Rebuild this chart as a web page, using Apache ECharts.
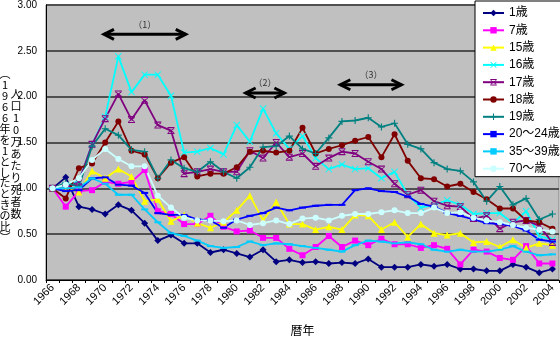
<!DOCTYPE html>
<html>
<head>
<meta charset="utf-8">
<script src="https://cdn.jsdelivr.net/npm/echarts@6/dist/echarts.min.js"></script>
<style>
  html, body { margin: 0; padding: 0; background: #ffffff; }
  #chart { width: 560px; height: 341px; }
</style>
</head>
<body>
<div id="chart"></div>
<script>
// Calendar years on the category axis
const years = ['1966','1967','1968','1969','1970','1971','1972','1973','1974','1975',
  '1976','1977','1978','1979','1980','1981','1982','1983','1984','1985',
  '1986','1987','1988','1989','1990','1991','1992','1993','1994','1995',
  '1996','1997','1998','1999','2000','2001','2002','2003','2004'];

// Deaths per 100k population, as a ratio to the 1966 level
const age1 = [1.00,1.12,0.80,0.77,0.72,0.82,0.76,0.62,0.43,0.49,
  0.40,0.40,0.30,0.33,0.29,0.25,0.33,0.20,0.22,0.19,
  0.20,0.18,0.19,0.18,0.23,0.14,0.14,0.14,0.17,0.15,
  0.17,0.12,0.12,0.10,0.10,0.17,0.14,0.08,0.12];
const age7 = [1.00,0.80,0.97,0.98,1.07,1.05,1.07,1.20,0.75,0.72,
  0.61,0.61,0.70,0.58,0.53,0.54,0.46,0.46,0.34,0.27,
  0.36,0.48,0.36,0.43,0.38,0.45,0.39,0.39,0.35,0.38,
  0.34,0.17,0.33,0.31,0.24,0.22,0.37,0.18,0.18];
const age15 = [1.00,1.00,0.96,1.19,1.11,1.21,1.13,0.86,0.88,0.64,
  0.71,0.62,0.57,0.63,0.76,0.92,0.65,0.85,0.61,0.61,
  0.55,0.58,0.55,0.71,0.70,0.55,0.63,0.47,0.61,0.51,
  0.49,0.51,0.41,0.42,0.36,0.44,0.35,0.40,0.38];
const age16 = [1.00,1.03,1.08,1.48,1.78,2.44,2.05,2.24,2.24,2.01,
  1.39,1.40,1.44,1.37,1.69,1.51,1.87,1.60,1.43,1.57,
  1.33,1.21,1.26,1.21,1.22,1.11,1.18,0.93,0.79,0.82,
  0.87,0.82,0.72,0.73,0.73,0.62,0.75,0.48,0.44];
const age17 = [1.00,1.00,1.07,1.48,1.76,2.03,1.75,1.96,1.69,1.63,
  1.16,1.18,1.21,1.18,1.18,1.41,1.33,1.50,1.34,1.38,
  1.24,1.33,1.40,1.38,1.29,1.21,1.05,0.93,0.98,0.86,
  0.81,0.80,0.67,0.70,0.56,0.63,0.65,0.59,0.41];
const age18 = [1.00,0.89,1.22,1.27,1.50,1.73,1.41,1.37,1.11,1.28,
  1.34,1.13,1.16,1.16,1.23,1.40,1.41,1.39,1.41,1.66,
  1.38,1.43,1.47,1.52,1.56,1.34,1.59,1.30,1.11,1.10,
  1.02,1.05,0.96,0.88,0.78,0.78,0.65,0.63,0.56];
const age19 = [1.00,1.06,1.02,1.46,1.65,1.58,1.42,1.40,1.11,1.31,
  1.22,1.18,1.29,1.18,1.11,1.23,1.45,1.46,1.57,1.43,
  1.38,1.55,1.73,1.74,1.77,1.67,1.71,1.48,1.43,1.28,
  1.21,1.19,1.07,0.86,1.02,0.82,0.89,0.66,0.72];
const age20to24 = [1.00,0.97,0.98,1.11,1.12,1.04,1.03,0.95,0.73,0.71,
  0.71,0.66,0.65,0.57,0.66,0.70,0.73,0.79,0.76,0.79,
  0.81,0.82,0.82,0.98,1.00,0.97,0.96,0.91,0.83,0.80,
  0.73,0.70,0.66,0.62,0.61,0.59,0.54,0.44,0.42];
const age35to39 = [1.00,1.00,1.01,1.11,1.05,0.93,0.93,0.77,0.63,0.51,
  0.48,0.43,0.37,0.35,0.36,0.42,0.38,0.40,0.39,0.37,
  0.35,0.33,0.31,0.38,0.43,0.42,0.40,0.41,0.39,0.33,
  0.31,0.33,0.31,0.31,0.33,0.37,0.31,0.27,0.28];
const age70plus = [1.00,1.04,1.11,1.31,1.43,1.32,1.24,1.24,0.92,0.79,
  0.68,0.65,0.65,0.64,0.65,0.60,0.62,0.65,0.61,0.67,
  0.68,0.65,0.70,0.72,0.72,0.74,0.76,0.73,0.73,0.79,
  0.73,0.74,0.68,0.65,0.63,0.60,0.57,0.55,0.53];

const seriesNames = ['1歳','7歳','15歳','16歳','17歳','18歳','19歳','20～24歳','35～39歳','70～歳'];
const seriesData = [age1, age7, age15, age16, age17, age18, age19, age20to24, age35to39, age70plus];

// Y axis ticks
const yTicks = [0, 0.5, 1.0, 1.5, 2.0, 2.5, 3.0];

// Period annotations: start/end year index, level, caption
const periodLabels = ['（1）', '（2）', '（3）'];
const periodFrom = [3.83, 14.6, 21.8];
const periodTo = [10.2, 17.7, 26.6];
const periodLevel = [2.68, 2.04, 2.13];

const FONT = '"Liberation Sans", "Noto Sans CJK JP", sans-serif';
const JP = '"Noto Sans CJK JP", sans-serif';

const colors = ['#000080','#FF00FF','#FFFF00','#00FFFF','#800080','#800000','#008080','#0000FF','#00CCFF','#CCFFFF'];
const xMark = 'path://M0,1L1,0L5,4L9,0L10,1L6,5L10,9L9,10L5,6L1,10L0,9L4,5Z';
const starMark = 'path://M0,0H10V1.5H0Z M0,8.5H10V10H0Z M1,1.5L5,4.2L9,1.5L9.6,2.6L6.1,5L9.6,7.4L9,8.5L5,5.8L1,8.5L0.4,7.4L3.9,5L0.4,2.6Z';
const plusMark = 'path://M4.2,0H5.8V4.2H10V5.8H5.8V10H4.2V5.8H0V4.2H4.2Z';
const symbols = ['diamond','rect','triangle',xMark,starMark,'circle',plusMark,'rect','rect','circle'];
const symbolSizes = [7,6,7,7,7,6,7,[7,2],[7,2],6];

const chart = echarts.init(document.getElementById('chart'), null, { renderer: 'canvas' });

const series = seriesNames.map((name, k) => ({
  name: name,
  type: 'line',
  data: seriesData[k],
  symbol: symbols[k],
  symbolSize: symbolSizes[k],
  showSymbol: true,
  showAllSymbol: true,
  lineStyle: { color: colors[k], width: 1.8 },
  itemStyle: { color: colors[k], borderWidth: 0 },
  emphasis: { disabled: true },
  animation: false
}));

chart.setOption({
  animation: false,
  textStyle: { fontFamily: FONT },
  grid: {
    left: 46, right: 1, top: 4, bottom: 55,
    show: true, backgroundColor: '#C0C0C0', borderColor: '#808080', borderWidth: 1
  },
  legend: {
    orient: 'vertical',
    left: 475, top: 1,
    data: seriesNames,
    selectedMode: false,
    backgroundColor: '#FFFFFF',
    borderColor: '#000000', borderWidth: 1,
    padding: [5, 6, 1, 7],
    itemWidth: 21, itemHeight: 8, itemGap: 3.3,
    textStyle: { fontSize: 12, color: '#000', fontFamily: FONT, lineHeight: 14 }
  },
  xAxis: {
    type: 'category',
    data: years,
    boundaryGap: true,
    name: '暦年',
    nameLocation: 'middle',
    nameGap: 44,
    nameTextStyle: { fontSize: 12, color: '#000', fontFamily: JP },
    axisLine: { lineStyle: { color: '#000', width: 1 } },
    axisTick: { show: true, interval: 0, length: 3, lineStyle: { color: '#000' } },
    axisLabel: { interval: 1, rotate: 45, fontSize: 11, color: '#000', margin: 6 },
    splitLine: { show: false }
  },
  yAxis: {
    type: 'value',
    min: yTicks[0], max: yTicks[yTicks.length - 1], interval: 0.5,
    axisLine: { show: true, lineStyle: { color: '#000', width: 1 } },
    axisTick: { show: false },
    axisLabel: { fontSize: 10, color: '#000', margin: 9, formatter: v => v.toFixed(2) },
    splitLine: { show: true, lineStyle: { color: '#505050', width: 2 } }
  },
  series: series
});

// Arrows and captions for the marked periods, placed through the axes
function toPx(idx, val) {
  const i0 = Math.floor(idx), i1 = Math.min(i0 + 1, years.length - 1);
  const p0 = chart.convertToPixel({ xAxisIndex: 0, yAxisIndex: 0 }, [i0, val]);
  const p1 = chart.convertToPixel({ xAxisIndex: 0, yAxisIndex: 0 }, [i1, val]);
  const t = idx - i0;
  return [p0[0] + (p1[0] - p0[0]) * t, p0[1]];
}

const graphics = [];
periodLabels.forEach((label, k) => {
  const a = toPx(periodFrom[k], periodLevel[k]);
  const b = toPx(periodTo[k], periodLevel[k]);
  const y = a[1];
  const style = { stroke: '#000', lineWidth: 3, fill: null, lineJoin: 'miter' };
  graphics.push({ type: 'line', shape: { x1: a[0] + 1, y1: y, x2: b[0] - 1, y2: y }, style: style, z: 100 });
  graphics.push({ type: 'polyline', shape: { points: [[a[0] + 11, y - 5], [a[0] + 1, y], [a[0] + 11, y + 5]] }, style: style, z: 100 });
  graphics.push({ type: 'polyline', shape: { points: [[b[0] - 11, y - 5], [b[0] - 1, y], [b[0] - 11, y + 5]] }, style: style, z: 100 });
  graphics.push({
    type: 'text', z: 100,
    style: { text: label, x: (a[0] + b[0]) / 2, y: y - 10, align: 'center', verticalAlign: 'middle',
      fill: '#333', fontSize: 9, fontFamily: JP }
  });
});

// Vertical axis title, written top-to-bottom in two columns
const titleOuter = '︵1966年を1としたときの比︶';
const titleInner = '人口10万あたり死者数';
graphics.push({
  type: 'text', z: 100,
  style: { text: Array.from(titleOuter).join('\n'), x: 5, y: 156, align: 'center', verticalAlign: 'middle',
    fill: '#000', fontSize: 11, lineHeight: 10.9, fontFamily: JP }
});
graphics.push({
  type: 'text', z: 100,
  style: { text: Array.from(titleInner).join('\n'), x: 16, y: 154, align: 'center', verticalAlign: 'middle',
    fill: '#000', fontSize: 11, lineHeight: 12, fontFamily: JP }
});

chart.setOption({ graphic: graphics });
</script>
</body>
</html>
